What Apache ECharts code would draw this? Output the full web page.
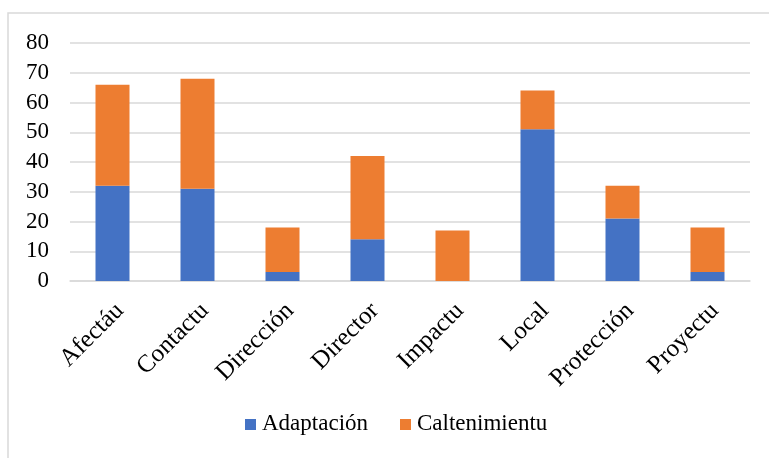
<!DOCTYPE html>
<html>
<head>
<meta charset="utf-8">
<script src="https://cdn.jsdelivr.net/npm/echarts@6/dist/echarts.min.js"></script>
<style>
  html, body { margin: 0; padding: 0; background: #fff; }
  #chart { width: 769px; height: 458px; }
</style>
</head>
<body>
<div id="chart"></div>
<script>
// Categories and stacked series values
const categories = ['Afectáu', 'Contactu', 'Dirección', 'Director', 'Impactu', 'Local', 'Protección', 'Proyectu'];
const adaptacion = [32, 31, 3, 14, 0, 51, 21, 3];
const caltenimientu = [34, 37, 15, 28, 17, 13, 11, 15];
const seriesNames = ['Adaptación', 'Caltenimientu'];
const seriesColors = ['#4472C4', '#ED7D31'];

const FONT = '"Liberation Serif", "Times New Roman", serif';
const chart = echarts.init(document.getElementById('chart'), null, { renderer: 'canvas' });

chart.setOption({
  animation: false,
  backgroundColor: '#ffffff',
  color: seriesColors,
  textStyle: { fontFamily: FONT, fontSize: 23, color: '#000' },
  grid: { left: 70, right: 19, top: 43, bottom: 177, containLabel: false },
  xAxis: {
    type: 'category',
    data: categories,
    axisTick: { show: false },
    axisLine: { show: true, lineStyle: { color: '#d9d9d9', width: 1.5 } },
    axisLabel: { show: false }
  },
  yAxis: {
    type: 'value',
    min: 0,
    max: 80,
    interval: 10,
    axisLine: { show: false },
    axisTick: { show: false },
    splitLine: { lineStyle: { color: '#d9d9d9', width: 1.5 } },
    axisLabel: { margin: 21, fontFamily: FONT, fontSize: 23, color: '#000' }
  },
  series: [
    { name: seriesNames[0], type: 'bar', stack: 'total', barWidth: 34, data: adaptacion },
    { name: seriesNames[1], type: 'bar', stack: 'total', barWidth: 34, data: caltenimientu }
  ]
});

// Category labels: slanted 45°, each anchored to its category position on the x axis
const axisY = chart.convertToPixel({ yAxisIndex: 0 }, 0);
const labelEls = categories.map(function (name) {
  const cx = chart.convertToPixel({ xAxisIndex: 0 }, name);
  return {
    type: 'text',
    x: cx + 7.5,
    y: axisY + 26,
    rotation: Math.PI / 4,
    silent: true,
    style: {
      text: name,
      font: '25px ' + FONT,
      fill: '#000',
      align: 'right',
      verticalAlign: 'middle'
    }
  };
});

// Legend: colour swatch followed by the series name
const legendX = [245, 400];
const legendEls = [];
seriesNames.forEach(function (name, i) {
  legendEls.push({
    type: 'rect', silent: true,
    shape: { x: legendX[i], y: 419, width: 11, height: 11 },
    style: { fill: seriesColors[i] }
  });
  legendEls.push({
    type: 'text', silent: true,
    x: legendX[i] + 17, y: 424,
    style: { text: name, font: '23px ' + FONT, fill: '#000', align: 'left', verticalAlign: 'middle' }
  });
});

// Outer frame of the chart area
const frame = {
  type: 'rect', silent: true,
  shape: { x: 8, y: 13, width: 800, height: 500 },
  style: { fill: 'none', stroke: '#d9d9d9', lineWidth: 1.5 }
};

chart.setOption({ graphic: [frame].concat(labelEls, legendEls) });
</script>
</body>
</html>
